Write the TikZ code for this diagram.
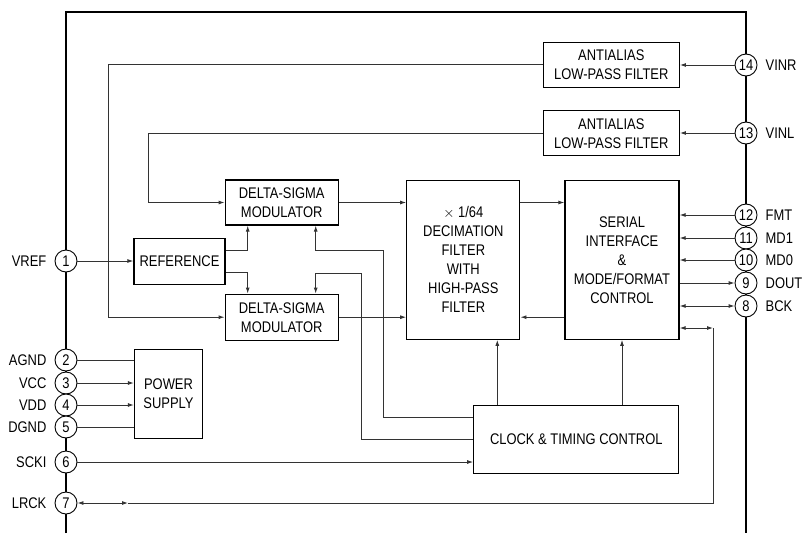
\documentclass[tikz,border=0pt]{standalone}
\usepackage{fontspec}
\setmainfont{Liberation Sans}[FakeStretch=0.84]
\usetikzlibrary{arrows.meta,positioning}

\begin{document}
\begin{tikzpicture}[x=1pt,y=-1pt,
  font=\fontsize{15.4}{19}\selectfont,
  >={Latex[length=6pt,width=4pt]},
  blk/.style={draw,line width=1.3pt,align=center,inner sep=0pt},
  wire/.style={line width=0.9pt,black!80},
  pin/.style={draw,circle,fill=white,line width=0.9pt,
    minimum size=22pt,inner sep=0pt}]

\useasboundingbox (0,0) rectangle (802,533);

% package outline
\draw[line width=2.8pt] (66,533) -- (66,12) -- (746,12) -- (746,533);

% pins
\foreach \n/\name/\y in {1/VREF/261,2/AGND/360,3/VCC/383,4/VDD/405,
                         5/DGND/427,6/SCKI/462,7/LRCK/503}{
    \node[pin] (p\n) at (66,\y) {\n};
    \node[left=8pt of p\n,inner sep=0pt] (l\n) {\name};
}
\foreach \n/\name/\y in {14/VINR/65,13/VINL/133,12/FMT/215,11/MD1/238,
                         10/MD0/260,9/DOUT/283,8/BCK/306}{
    \node[pin] (p\n) at (746,\y) {\n};
    \node[right=8pt of p\n,inner sep=0pt] (l\n) {\name};
}

% blocks
\node[blk,minimum width=136pt,minimum height=45pt] (aar) at (611.3,64.8)
    {ANTIALIAS\\LOW-PASS FILTER};
\node[blk,minimum width=136pt,minimum height=45pt] (aal) at (611.3,133.2)
    {ANTIALIAS\\LOW-PASS FILTER};
\node[blk,minimum width=113pt,minimum height=45pt] (dsm1) at (281.7,202.5)
    {DELTA-SIGMA\\MODULATOR};
\node[blk,minimum width=113pt,minimum height=46pt] (dsm2) at (281.7,317.2)
    {DELTA-SIGMA\\MODULATOR};
\node[blk,minimum width=91pt,minimum height=46pt] (ref) at (179.5,261.2)
    {REFERENCE};
\node[blk,minimum width=68pt,minimum height=89pt] (pwr) at (168.5,393.7)
    {POWER\\SUPPLY};
\node[blk,minimum width=113pt,minimum height=159pt] (dec) at (463.3,259.7)
    {$\times$ 1/64\\DECIMATION\\FILTER\\WITH\\HIGH-PASS\\FILTER};
\node[blk,minimum width=114pt,minimum height=159pt] (ser) at (622,259.7)
    {SERIAL\\INTERFACE\\\&\\MODE/FORMAT\\CONTROL};
\node[blk,minimum width=205pt,minimum height=68pt] (clk) at (576.3,439.5)
    {CLOCK \& TIMING CONTROL};

% bends
\coordinate (inr) at (108,317.2);
\coordinate (inl) at (148,202.5);
\coordinate (ck1) at (383,250);
\coordinate (ck2) at (361,273);
\coordinate (lrm) at (128,503);
\coordinate (lrb) at (713,503);
\coordinate (lrc) at (713,328);

% analog inputs
\draw[wire,->] (p14) -- (p14 -| aar.east);
\draw[wire,->] (p13) -- (p13 -| aal.east);
\draw[wire,->] (aar.west) -| (inr) -- (dsm2.west);
\draw[wire,->] (aal.west) -| (inl) -- (dsm1.west);

% reference
\draw[wire,->] (p1) -- (p1 -| ref.west);
\draw[wire,->] ([yshift=11pt]ref.east) -| ([xshift=-34pt]dsm1.south);
\draw[wire,->] ([yshift=-11.5pt]ref.east) -| ([xshift=-34pt]dsm2.north);

% clock to modulators
\draw[wire,->] ([yshift=22.5pt]clk.west) -| (ck1) -| ([xshift=34pt]dsm1.south);
\draw[wire,->] (clk.west) -| (ck2) -| ([xshift=34pt]dsm2.north);
\draw[wire,->] (p6) -- (p6 -| clk.west);

% data path
\draw[wire,->] (dsm1.east) -- (dsm1.east -| dec.west);
\draw[wire,->] (dsm2.east) -- (dsm2.east -| dec.west);
\draw[wire,->] (dsm1.east -| dec.east) -- (dsm1.east -| ser.west);
\draw[wire,->] (dsm2.east -| ser.west) -- (dsm2.east -| dec.east);
\draw[wire,->] ([xshift=34pt]dec.south |- clk.north) -- ([xshift=34pt]dec.south);
\draw[wire,->] (ser.south |- clk.north) -- (ser.south);

% serial pins
\draw[wire,->] (p12) -- (p12 -| ser.east);
\draw[wire,->] (p11) -- (p11 -| ser.east);
\draw[wire,->] (p10) -- (p10 -| ser.east);
\draw[wire,<-] (p9) -- (p9 -| ser.east);
\draw[wire,<->] (p8) -- (p8 -| ser.east);
\draw[wire,<->] (p7) -- (lrm);
\draw[wire] (lrm) -- (lrb) -- (lrc);
\draw[wire,<->] (lrc -| ser.east) -- (lrc);

% power
\draw[wire] (p2) -- (p2 -| pwr.west);
\draw[wire,->] (p3) -- (p3 -| pwr.west);
\draw[wire,->] (p4) -- (p4 -| pwr.west);
\draw[wire] (p5) -- (p5 -| pwr.west);

\end{tikzpicture}
\end{document}
